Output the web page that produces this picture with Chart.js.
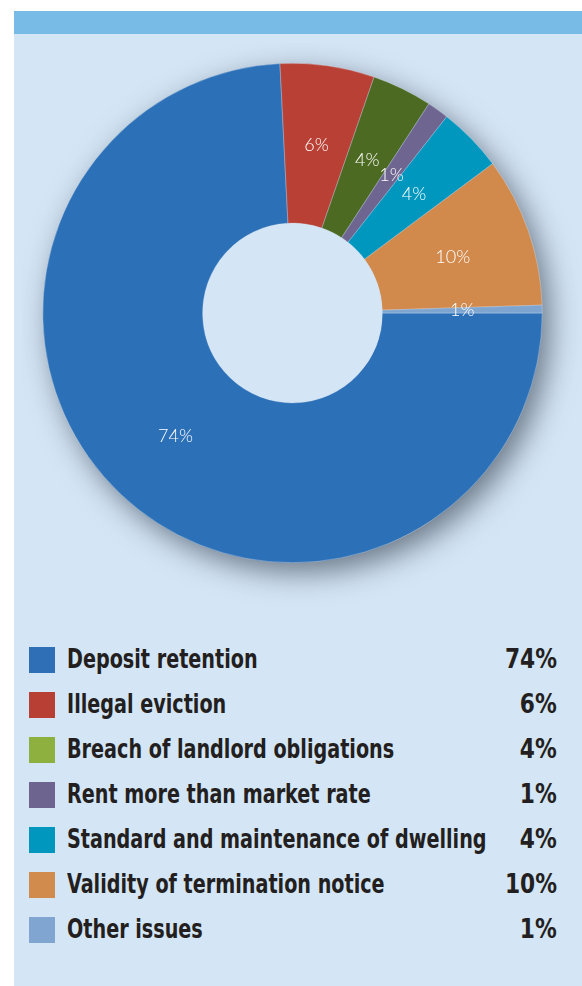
<!DOCTYPE html>
<html>
<head>
<meta charset="utf-8">
<script src="https://cdn.jsdelivr.net/npm/chart.js@4"></script>
<style>
  html, body { margin: 0; padding: 0; background: #ffffff; }
  body { width: 582px; height: 986px; position: relative; overflow: hidden; }
  #panel { position: absolute; left: 14px; top: 11px; width: 568px; height: 975px; background: #d4e5f5; }
  #band { position: absolute; left: 0; top: 0; width: 568px; height: 23px; background: #78bbe7; }
  #chartBox { position: absolute; left: 22px; top: 43px; width: 560px; height: 600px; }
  #legend { position: absolute; left: 0; top: 0; }
  .row { position: absolute; left: 0; width: 582px; height: 26px; }
  .sw { position: absolute; left: 29px; top: 0; width: 26px; height: 26px; }
  .lbl, .pct { position: absolute; top: -3px; line-height: 30px; font-family: "Liberation Sans Narrow", "DejaVu Sans Condensed", sans-serif;
    font-weight: bold; font-size: 26px; color: #231f20; white-space: nowrap; }
  .lbl { left: 67px; transform: scaleX(0.82); transform-origin: left center; }
  .pct { right: 25px; transform: scaleX(0.93); transform-origin: right center; }
</style>
</head>
<body>
<div id="panel"><div id="band"></div></div>
<div id="chartBox"><canvas id="issuesChart"></canvas></div>
<div id="legend"></div>
<script>
// categories and shares (slices, labels rounded)
const categories = [
  'Deposit retention',
  'Illegal eviction',
  'Breach of landlord obligations',
  'Rent more than market rate',
  'Standard and maintenance of dwelling',
  'Validity of termination notice',
  'Other issues'
];
const shares = [74.2, 6.1, 3.9, 1.4, 4.2, 9.7, 0.5];
const shareLabels = ['74%', '6%', '4%', '1%', '4%', '10%', '1%'];

const sliceColors = ['#2c70b7', '#b84034', '#4d6a22', '#6e6690', '#0097be', '#d18a4c', '#7ea5d0'];
const keyColors = ['#2e6fb5', '#b83f33', '#8db03e', '#6d6590', '#0097be', '#d18b4c', '#7fa5d0'];

// html legend with right aligned values
const legendEl = document.getElementById('legend');
categories.forEach(function(name, i) {
  const row = document.createElement('div');
  row.className = 'row';
  row.style.top = (647 + i * 45) + 'px';
  row.innerHTML = '<div class="sw" style="background:' + keyColors[i] + '"></div>' +
    '<div class="lbl">' + name + '</div><div class="pct">' + shareLabels[i] + '</div>';
  legendEl.appendChild(row);
});

// soft drop shadow behind the ring, hole kept clear
const ringShadow = {
  id: 'ringShadow',
  beforeDatasetsDraw(chart) {
    const arc = chart.getDatasetMeta(0).data[0];
    if (!arc) return;
    const ctx = chart.ctx;
    ctx.save();
    ctx.shadowColor = 'rgba(30, 40, 55, 0.6)';
    ctx.shadowBlur = 30;
    ctx.shadowOffsetX = 8;
    ctx.shadowOffsetY = 10;
    ctx.fillStyle = sliceColors[0];
    ctx.beginPath();
    ctx.arc(arc.x, arc.y, arc.outerRadius - 1, 0, Math.PI * 2);
    ctx.fill();
    ctx.restore();
    ctx.save();
    ctx.globalCompositeOperation = 'destination-out';
    ctx.beginPath();
    ctx.arc(arc.x, arc.y, arc.innerRadius + 0.5, 0, Math.PI * 2);
    ctx.fill();
    ctx.restore();
  }
};

// percentage text in the middle of each slice
const sliceText = {
  id: 'sliceText',
  afterDatasetsDraw(chart) {
    const ctx = chart.ctx;
    ctx.save();
    ctx.fillStyle = '#ffffff';
    ctx.font = '300 18px Lato, "Open Sans", sans-serif';
    ctx.textAlign = 'center';
    ctx.textBaseline = 'middle';
    chart.getDatasetMeta(0).data.forEach(function(arc, i) {
      const p = arc.getCenterPoint();
      ctx.fillText(shareLabels[i], p.x, p.y);
    });
    ctx.restore();
  }
};

const ctx = document.getElementById('issuesChart').getContext('2d');
const chart = new Chart(ctx, {
  type: 'doughnut',
  data: {
    labels: categories,
    datasets: [{
      data: shares,
      backgroundColor: sliceColors,
      borderColor: 'rgba(225, 235, 245, 0.55)',
      borderWidth: 0.6
    }]
  },
  options: {
    responsive: true,
    maintainAspectRatio: false,
    animation: false,
    rotation: 90,
    cutout: '36%',
    layout: { padding: { left: 20, right: 39, top: 20, bottom: 80 } },
    plugins: {
      legend: { display: false },
      tooltip: { enabled: false }
    }
  },
  plugins: [ringShadow, sliceText]
});
</script>
</body>
</html>
